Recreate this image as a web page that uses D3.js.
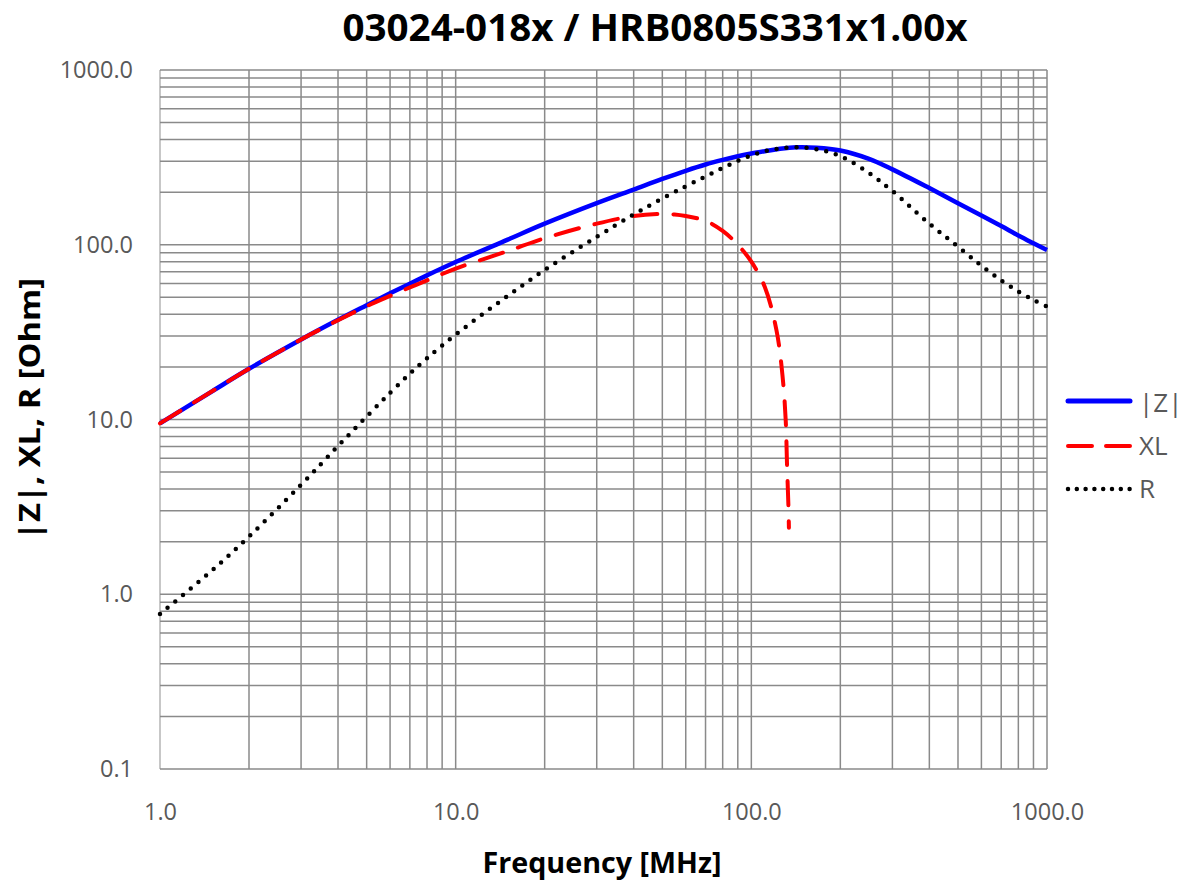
<!DOCTYPE html>
<html><head><meta charset="utf-8">
<script src="https://cdn.jsdelivr.net/npm/d3@7"></script>
<style>
html,body{margin:0;padding:0;background:#fff;}
svg{display:block;}
</style></head>
<body>
<svg id="chart" width="1185" height="884"></svg>
<script>
// ---- data ----
const chartTitle = "03024-018x / HRB0805S331x1.00x";
const xTitle = "Frequency [MHz]";
const yTitle = "|Z|, XL, R [Ohm]";
const xTickValues = [1, 10, 100, 1000];
const xTickLabels = ["1.0", "10.0", "100.0", "1000.0"];
const yTickValues = [0.1, 1, 10, 100, 1000];
const yTickLabels = ["0.1", "1.0", "10.0", "100.0", "1000.0"];
const seriesNames = ["|Z|", "XL", "R"];

const freq = [1, 1.5, 2, 3, 4, 5, 6, 7, 8, 10, 15, 20, 30, 40, 50, 60, 70, 80, 90, 100,
  112, 125, 142, 166, 200, 250, 300, 400, 500, 600, 700, 800, 900, 1000];
const zVals = [9.5, 14.5, 19.5, 28.7, 37.2, 45.1, 52.7, 59.9, 66.8, 79.6, 107, 132, 173, 207, 238, 265, 288, 306, 321, 333,
  344, 354, 361, 359, 346, 310, 270, 211, 173, 147, 128, 113, 102, 93.3];
const rVals = [0.77, 1.37, 2.14, 4.23, 7.05, 10.4, 14.2, 18.3, 22.4, 30.6, 51, 71.7, 111, 149, 184, 216, 246, 275, 302, 324,
  344, 355, 361, 352, 322, 257, 203, 132, 97.5, 75.9, 62.6, 54, 48.3, 44.3];

const freqXL = [1, 1.5, 2, 3, 4, 5, 6, 7, 8, 10, 15, 20, 30, 40, 48, 55, 60, 70, 80, 90, 100,
  111, 121.6, 127.4, 130.7, 132, 133.5, 134];
const xlVals = [9.5, 14.5, 19.5, 28.7, 37, 44.5, 51, 57, 62.5, 73, 92, 109, 132, 146, 150, 149, 146, 137, 120, 100, 80,
  57.5, 32.5, 18, 9.9, 5.6, 3.17, 2.4];

(function () {
// ---- layout ----
const pLeft = 160, pRight = 1047, pTop = 70, pBottom = 769;
const svg = d3.select("#chart");

const x = d3.scaleLog().domain([1, 1000]).range([pLeft, pRight]);
const y = d3.scaleLog().domain([0.1, 1000]).range([pBottom, pTop]);

// grid lines (1..9 per decade)
const xGrid = [], yGrid = [];
for (let d = 0; d < 3; d++) for (let m = 1; m <= 9; m++) xGrid.push(m * Math.pow(10, d));
xGrid.push(1000);
for (let d = -1; d < 3; d++) for (let m = 1; m <= 9; m++) yGrid.push(m * Math.pow(10, d));
yGrid.push(1000);

const grid = svg.append("g").attr("stroke", "#8a8a8a").attr("stroke-width", 1.5);
grid.selectAll("line.v").data(xGrid).join("line").attr("class", "v")
  .attr("x1", d => x(d)).attr("x2", d => x(d)).attr("y1", pTop).attr("y2", pBottom)
  .attr("stroke", d => d === 1 ? "#b5b5b5" : null);
grid.selectAll("line.h").data(yGrid).join("line").attr("class", "h")
  .attr("y1", d => y(d)).attr("y2", d => y(d)).attr("x1", pLeft).attr("x2", pRight);

// axes (labels only, via d3 axes)
const xAxis = d3.axisBottom(x).tickValues(xTickValues)
  .tickFormat((d, i) => xTickLabels[i]).tickSize(0).tickPadding(0);
const gx = svg.append("g").attr("transform", `translate(0,${pBottom})`).call(xAxis);
gx.select(".domain").remove();
gx.selectAll("text").attr("font-family", "Open Sans, sans-serif").attr("font-size", 23.5)
  .attr("fill", "#595959").attr("dy", null).attr("y", 51);

const yAxis = d3.axisLeft(y).tickValues(yTickValues)
  .tickFormat((d, i) => yTickLabels[i]).tickSize(0).tickPadding(27);
const gy = svg.append("g").attr("transform", `translate(${pLeft},0)`).call(yAxis);
gy.select(".domain").remove();
gy.selectAll("text").attr("font-family", "Open Sans, sans-serif").attr("font-size", 23.5)
  .attr("fill", "#595959");

// lines
const lineGen = (xs, vs) => d3.line()
  .x((d, i) => x(xs[i])).y(d => y(d))
  .curve(d3.curveCatmullRom.alpha(0.5))(vs);

svg.append("path").attr("d", lineGen(freq, zVals))
  .attr("fill", "none").attr("stroke", "#0000ff").attr("stroke-width", 4.5)
  .attr("stroke-linejoin", "round");
svg.append("path").attr("d", lineGen(freqXL, xlVals))
  .attr("fill", "none").attr("stroke", "#ff0000").attr("stroke-width", 4)
  .attr("stroke-dasharray", "24 16").attr("stroke-linecap", "round");
svg.append("path").attr("d", lineGen(freq, rVals))
  .attr("fill", "none").attr("stroke", "#000").attr("stroke-width", 4.5)
  .attr("stroke-dasharray", "0 10").attr("stroke-linecap", "round");

// legend
const legY = [401, 446, 489];
const legStyles = [
  {stroke: "#0000ff", w: 5, dash: null, cap: "round"},
  {stroke: "#ff0000", w: 4, dash: "24 14", cap: "round"},
  {stroke: "#000", w: 4.5, dash: "0 8.8", cap: "round"}
];
const leg = svg.append("g");
seriesNames.forEach((name, i) => {
  const s = legStyles[i];
  leg.append("line").attr("x1", 1068).attr("x2", 1130).attr("y1", legY[i]).attr("y2", legY[i])
    .attr("stroke", s.stroke).attr("stroke-width", s.w)
    .attr("stroke-dasharray", s.dash).attr("stroke-linecap", s.cap);
  leg.append("text").attr("x", 1139).attr("y", legY[i] + (i === 0 ? 2 : 0)).attr("dy", "0.36em")
    .attr("font-family", "Open Sans, sans-serif").attr("font-size", 26).attr("fill", "#595959")
    .text(name);
});

// titles
svg.append("text").attr("x", 655).attr("y", 41).attr("text-anchor", "middle")
  .attr("font-family", "Open Sans, sans-serif").attr("font-weight", "bold").attr("font-size", 38)
  .attr("textLength", 625).attr("lengthAdjust", "spacingAndGlyphs")
  .attr("fill", "#000").text(chartTitle);

svg.append("text").attr("x", 602).attr("y", 873).attr("text-anchor", "middle")
  .attr("font-family", "Open Sans, sans-serif").attr("font-weight", "bold").attr("font-size", 29)
  .attr("textLength", 239).attr("lengthAdjust", "spacingAndGlyphs")
  .attr("fill", "#000").text(xTitle);

svg.append("text").attr("transform", "translate(40,409) rotate(-90)").attr("text-anchor", "middle")
  .attr("font-family", "Open Sans, sans-serif").attr("font-weight", "bold").attr("font-size", 29)
  .attr("textLength", 262).attr("lengthAdjust", "spacingAndGlyphs")
  .attr("fill", "#000").text(yTitle);
})();
</script>
</body></html>
